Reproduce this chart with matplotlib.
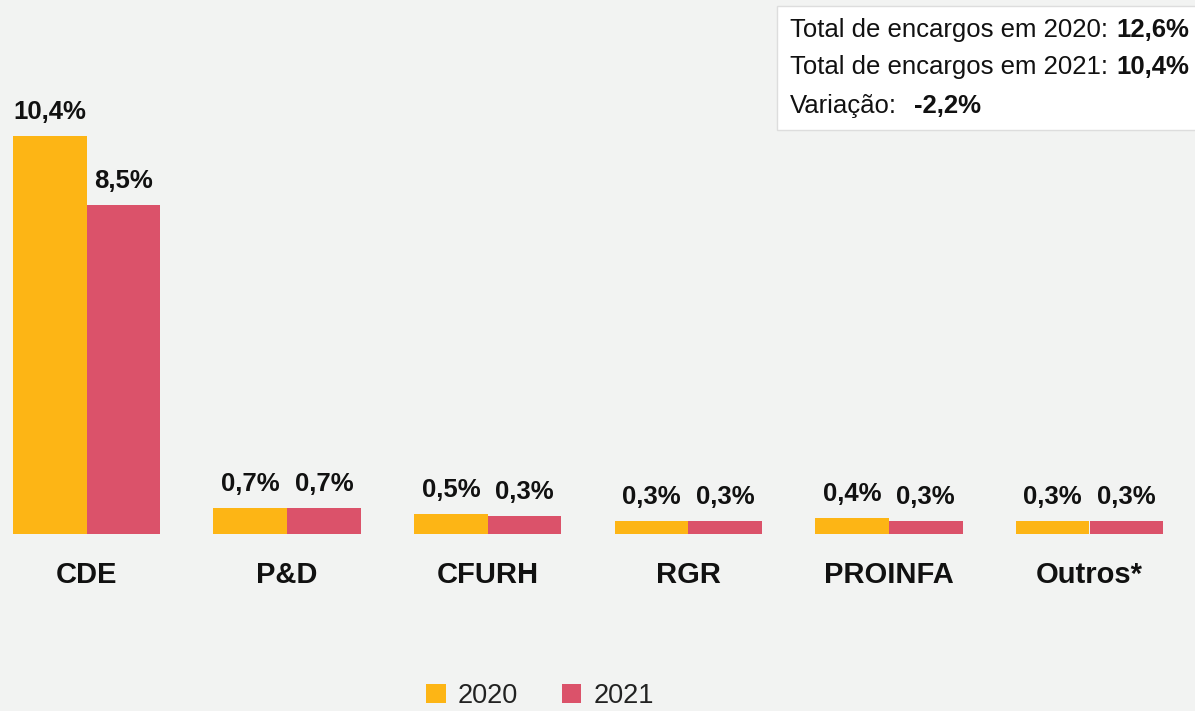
import matplotlib.pyplot as plt
from matplotlib.patches import Patch, Rectangle
import numpy as np

plt.rcParams['font.family'] = ['Liberation Sans', 'DejaVu Sans']

categories = ['CDE', 'P&D', 'CFURH', 'RGR', 'PROINFA', 'Outros*']
v2020 = [10.4, 0.68, 0.52, 0.34, 0.42, 0.34]
v2021 = [8.6, 0.68, 0.47, 0.34, 0.34, 0.34]
lab2020 = ['10,4%', '0,7%', '0,5%', '0,3%', '0,4%', '0,3%']
lab2021 = ['8,5%', '0,7%', '0,3%', '0,3%', '0,3%', '0,3%']
series = ['2020', '2021']
summary = [('Total de encargos em 2020:', '12,6%'),
           ('Total de encargos em 2021:', '10,4%'),
           ('Variação:', '-2,2%')]

bg = '#f2f3f2'
c2020 = '#fdb515'
c2021 = '#db526a'

W, H = 1195, 711
fig = plt.figure(figsize=(W / 100, H / 100), dpi=100, facecolor=bg)

# axes bottom sits on the bar baseline
base_px = 533.7
ax = fig.add_axes([0, (H - base_px) / H, 1, base_px / H])
ax.set_facecolor(bg)

pxu = 200.6          # pixels per category step
c0 = 86.5            # pixel center of first group
ax.set_xlim(-c0 / pxu, (W - c0) / pxu)
ppy = 38.27          # pixels per percent
ax.set_ylim(0, base_px / ppy)

x = np.arange(len(categories))
w = 0.367
b1 = ax.bar(x - w / 2, v2020, w, color=c2020)
b2 = ax.bar(x + w / 2, v2021, w, color=c2021)

for bars, labs in [(b1, lab2020), (b2, lab2021)]:
    for r, t in zip(bars, labs):
        ax.annotate(t, (r.get_x() + r.get_width() / 2, r.get_height()),
                    xytext=(0, 12.2), textcoords='offset points',
                    ha='center', va='baseline', fontsize=18.5,
                    fontweight='bold', color='#111111')

for s in ax.spines.values():
    s.set_visible(False)
ax.set_yticks([])
ax.set_xticks(x)
ax.set_xticklabels(categories, fontsize=21, fontweight='bold', color='#111111')
ax.tick_params(axis='x', length=0, pad=20)

# summary box in the top right corner
fig.patches.append(Rectangle((777 / W, 1 - 130 / H), 0.5, 124 / H,
                             transform=fig.transFigure, facecolor='white',
                             edgecolor='#dddddd', linewidth=1))
fig.canvas.draw()
rend = fig.canvas.get_renderer()
gaps = [8, 8, 17]
baselines = [37, 74, 113]
for (reg, bold), yb, g in zip(summary, baselines, gaps):
    y = 1 - yb / H
    t = fig.text(790 / W, y, reg, fontsize=18.5, color='#111111', va='baseline')
    bb = t.get_window_extent(rend)
    fig.text((bb.x1 + g) / W, y, bold, fontsize=18.5, fontweight='bold',
             color='#111111', va='baseline')

handles = [Patch(facecolor=c2020), Patch(facecolor=c2021)]
fig.legend(handles, series, loc='lower center', bbox_to_anchor=(540 / W, 0.003),
           ncol=2, frameon=False, fontsize=19.5, handlelength=0.72, handleheight=0.72,
           handletextpad=0.45, columnspacing=1.6, labelcolor='#222222',
           borderaxespad=0, borderpad=0)

fig.savefig('out.png', dpi=100, facecolor=bg)
